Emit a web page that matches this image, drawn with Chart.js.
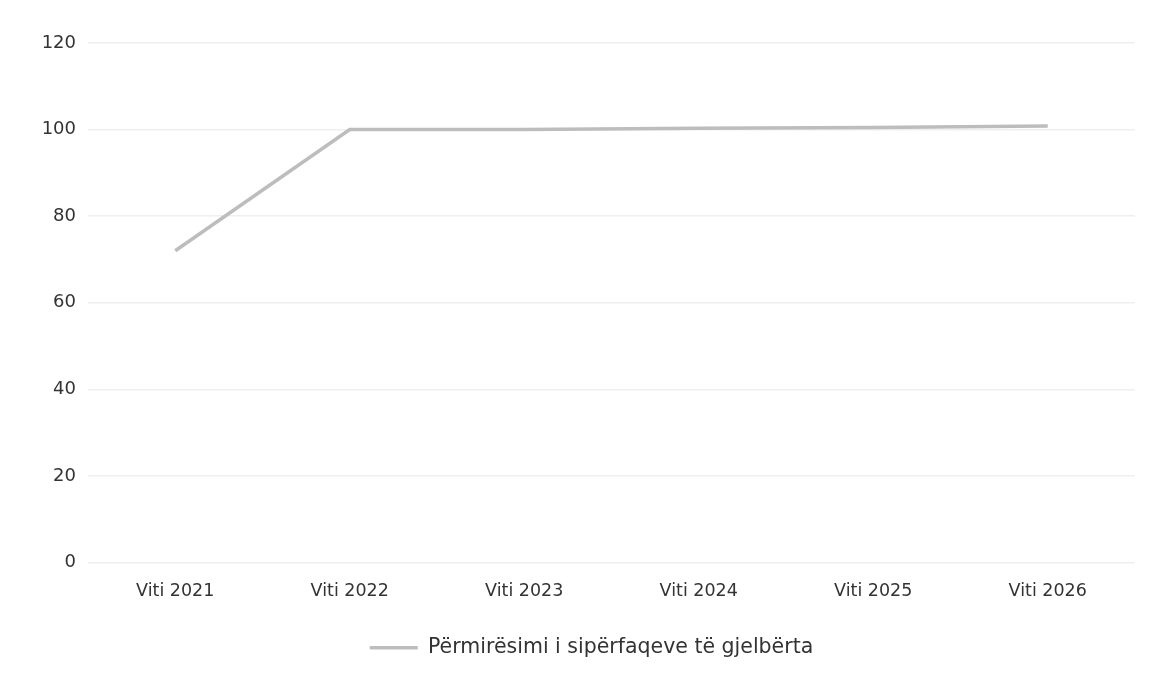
<!DOCTYPE html>
<html>
<head>
<meta charset="utf-8">
<script src="https://cdn.jsdelivr.net/npm/chart.js@4"></script>
<style>
  html, body { margin: 0; padding: 0; background: #fff; }
  #wrap { width: 1160px; height: 684px; }
</style>
</head>
<body>
<div id="wrap"><canvas id="line_chart"></canvas></div>
<script>
const labels = ["Viti 2021", "Viti 2022", "Viti 2023", "Viti 2024", "Viti 2025", "Viti 2026"];
const values = [72, 100, 100, 100.3, 100.5, 100.8];
const seriesName = "Përmirësimi i sipërfaqeve të gjelbërta";
const yTicks = [0, 20, 40, 60, 80, 100, 120];

const ctx = document.getElementById("line_chart");

// the legend sits a bit right of the canvas centre in the original
const legendShift = {
  id: "legendShift",
  afterLayout(chart) {
    chart.legend.left += 24;
    chart.legend.right += 24;
  },
};

new Chart(ctx, {
  type: "line",
  data: {
    labels: labels,
    datasets: [
      {
        label: seriesName,
        data: values,
        borderColor: "#bdbdbd",
        backgroundColor: "#bdbdbd",
        borderWidth: 3.5,
        pointRadius: 0,
        tension: 0,
      },
    ],
  },
  plugins: [legendShift],
  options: {
    responsive: true,
    maintainAspectRatio: false,
    animation: false,
    layout: { padding: { top: 43, right: 25, bottom: 16, left: 0 } },
    plugins: {
      tooltip: { enabled: false },
      legend: {
        position: "bottom",
        labels: {
          usePointStyle: true,
          pointStyle: "line",
          pointStyleWidth: 48,
          color: "#333",
          font: { family: "DejaVu Sans", size: 20.5 },
          padding: 18,
        },
      },
    },
    scales: {
      x: {
        offset: true,
        grid: { display: false, drawTicks: false },
        border: { display: false },
        ticks: {
          color: "#333",
          font: { family: "DejaVu Sans", size: 17.5 },
          padding: 18,
          maxRotation: 0,
        },
      },
      y: {
        min: 0,
        max: 120,
        afterBuildTicks: (scale) => {
          scale.ticks = yTicks.map((v) => ({ value: v }));
        },
        afterFit: (scale) => {
          scale.width = 88;
        },
        grid: { color: "#efefef", lineWidth: 1.5, drawTicks: false },
        border: { display: false },
        ticks: {
          color: "#333",
          font: { family: "DejaVu Sans", size: 18 },
          padding: 12,
        },
      },
    },
  },
});
</script>
</body>
</html>
